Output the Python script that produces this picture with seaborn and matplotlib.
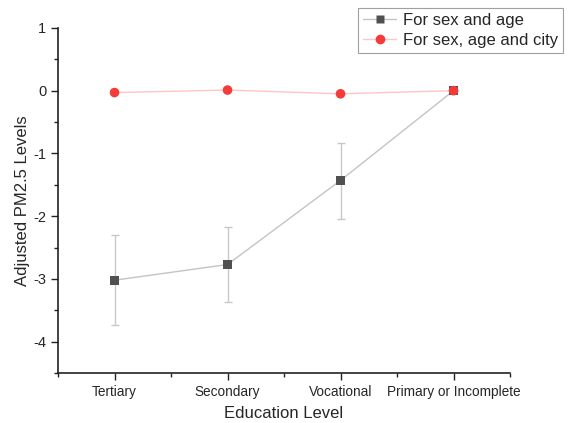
import numpy as np
import pandas as pd
import matplotlib
matplotlib.use("Agg")
import matplotlib.pyplot as plt
from matplotlib.lines import Line2D
from matplotlib.ticker import MultipleLocator
import seaborn as sns

# data
levels = ["Tertiary", "Secondary", "Vocational", "Primary or Incomplete"]
sex_age = [-3.02, -2.77, -1.43, 0.0]
sex_age_low = [-3.74, -3.36, -2.05, 0.0]
sex_age_high = [-2.30, -2.17, -0.84, 0.0]
sex_age_city = [-0.03, 0.01, -0.05, 0.0]

sns.set_style("ticks")
plt.rcParams['font.family'] = ['Liberation Sans', 'DejaVu Sans']

pos = np.arange(len(levels))
df = pd.DataFrame({"pos": np.concatenate([pos, pos]),
                   "val": sex_age + sex_age_city,
                   "series": ["For sex and age"] * 4 + ["For sex, age and city"] * 4})

fig = plt.figure(figsize=(5.7, 4.23), dpi=100)
ax = fig.add_axes([0.1018, 0.118, 0.793, 0.816])

line_cols = {"For sex and age": "#c4c4c4", "For sex, age and city": "#ffc4c4"}
mark_cols = {"For sex and age": "#505050", "For sex, age and city": "#f53a3a"}

# error bars
err = [np.array(sex_age) - np.array(sex_age_low), np.array(sex_age_high) - np.array(sex_age)]
ax.errorbar(pos, sex_age, yerr=err, fmt="none", ecolor="#c8c8c8", elinewidth=1, capsize=3, capthick=1, zorder=1)

sns.lineplot(data=df, x="pos", y="val", hue="series", palette=line_cols, linewidth=1,
             legend=False, ax=ax, zorder=2)
sns.scatterplot(data=df[df.series == "For sex and age"], x="pos", y="val", color=mark_cols["For sex and age"],
                marker="s", s=40, edgecolor="none", legend=False, ax=ax, zorder=3)
sns.scatterplot(data=df[df.series == "For sex, age and city"], x="pos", y="val",
                color=mark_cols["For sex, age and city"], marker="o", s=48, edgecolor="none",
                legend=False, ax=ax, zorder=3)

ax.set_xlim(-0.5, 3.5)
ax.set_ylim(-4.5, 1)
ax.set_xticks(pos)
ax.set_xticklabels(levels, fontsize=9.8)
ax.xaxis.set_minor_locator(MultipleLocator(0.5))
ax.set_yticks([1, 0, -1, -2, -3, -4])
ax.set_yticklabels(["1", "0", "-1", "-2", "-3", "-4"], fontsize=10.5)
ax.yaxis.set_minor_locator(MultipleLocator(0.5))
ax.tick_params(which="major", direction="out", length=5, width=1, color="#222222")
ax.tick_params(which="minor", direction="out", length=3, width=1, color="#222222")
for s in ["left", "bottom"]:
    ax.spines[s].set_linewidth(1.2)
    ax.spines[s].set_color("#222222")
sns.despine(ax=ax)

ax.set_xlabel("Education Level", fontsize=12, labelpad=5)
ax.set_ylabel("Adjusted PM2.5 Levels", fontsize=12, labelpad=2)

handles = [Line2D([], [], color=line_cols["For sex and age"], marker="s", markerfacecolor=mark_cols["For sex and age"],
                  markeredgecolor="none", markersize=6, linewidth=1),
           Line2D([], [], color=line_cols["For sex, age and city"], marker="o",
                  markerfacecolor=mark_cols["For sex, age and city"], markeredgecolor="none", markersize=7, linewidth=1)]
leg = fig.legend(handles, ["For sex and age", "For sex, age and city"], loc="upper right",
                 bbox_to_anchor=(0.988, 0.981), borderaxespad=0, fontsize=12, frameon=True, fancybox=False,
                 borderpad=0.3, handlelength=2.0, handletextpad=0.4, labelspacing=0.3)
leg.get_frame().set_edgecolor("#888888")
leg.get_frame().set_linewidth(0.8)

fig.savefig("out.png", dpi=100)
